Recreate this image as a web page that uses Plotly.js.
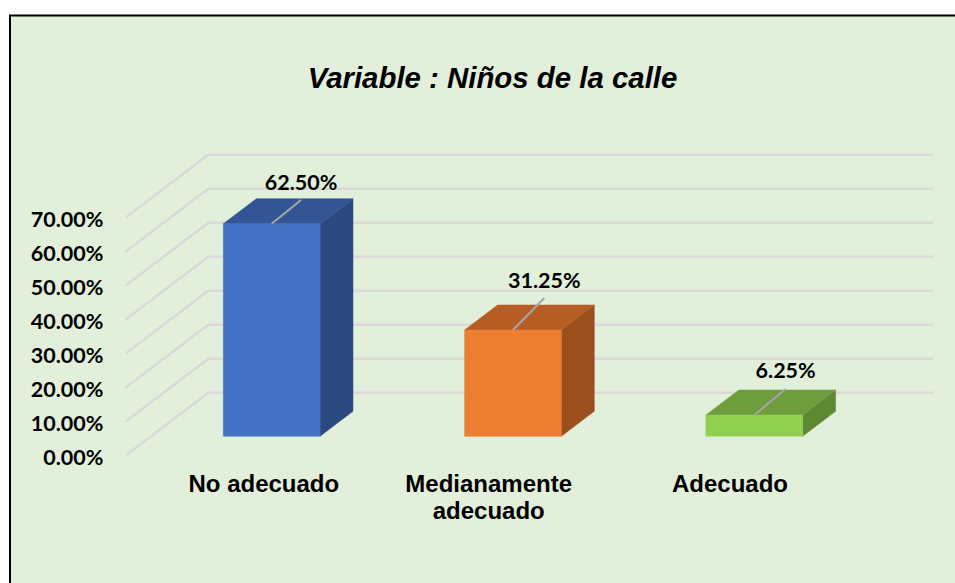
<!DOCTYPE html>
<html><head><meta charset="utf-8">
<script src="https://cdn.plot.ly/plotly-3.0.1.min.js"></script>
<style>html,body{margin:0;padding:0;background:#fff}#c{width:955px;height:583px}</style>
</head><body><div id="c"></div>
<script>
const titleText = 'Variable : Niños de la calle';
const categories = ['No adecuado', 'Medianamente<br>adecuado', 'Adecuado'];
const categoryLabelPos = [0.574, 1.506, 2.506];
const values = [0.625, 0.3125, 0.0625];
const tickValues = [0, 0.1, 0.2, 0.3, 0.4, 0.5, 0.6, 0.7];
const frontColors = ['#4472C4', '#ED7D31', '#92D050'];
const topColors = ['#335593', '#B55D23', '#6F9C3C'];
const sideColors = ['#2C497F', '#9A501D', '#5F8832'];
const leaderLift = [0.0700, 0.0941, 0.0765];
const labelLift = [0.1150, 0.1380, 0.1235];
const leaderRun = [0.1215, 0.1300, 0.1300];

// oblique projection: depth d in [0,1] shifts along the floor diagonal
const DX = 83 / 241.3, DY = 63 / 340;
const P = (x, v, d) => [x + d * DX, v + d * DY];
const poly = (pts, color) => ({
  type: 'scatter', mode: 'lines', fill: 'toself', fillcolor: color,
  x: pts.map(p => p[0]), y: pts.map(p => p[1]),
  line: {color: color, width: 0.5}, hoverinfo: 'skip', showlegend: false
});
const traces = [];
// wall + side gridlines
tickValues.forEach(v => {
  const a = P(0, v, 0), b = P(0, v, 1), c = P(3.004, v, 1);
  traces.push({type:'scatter', mode:'lines', x:[a[0],b[0],c[0]], y:[a[1],b[1],c[1]],
    line:{color:'#D9D9D9', width:2.5}, hoverinfo:'skip', showlegend:false});
});
// bars
const halfW = 0.2004, d0 = 0.31, d1 = 0.707;
values.forEach((v, i) => {
  const L = i + 0.5 - halfW, R = i + 0.5 + halfW;
  traces.push(poly([P(R,0,d0), P(R,0,d1), P(R,v,d1), P(R,v,d0), P(R,0,d0)], sideColors[i]));
  traces.push(poly([P(L,v,d0), P(R,v,d0), P(R,v,d1), P(L,v,d1), P(L,v,d0)], topColors[i]));
  traces.push(poly([P(L,0,d0), P(R,0,d0), P(R,v,d0), P(L,v,d0), P(L,0,d0)], frontColors[i]));
  const s = P(i + 0.5, v, d0);
  traces.push({type:'scatter', mode:'lines', x:[s[0], s[0] + leaderRun[i]], y:[s[1], s[1] + leaderLift[i]],
    line:{color:'#A6A6A6', width:2}, hoverinfo:'skip', showlegend:false});
  traces.push({type:'scatter', mode:'text', x:[s[0] + leaderRun[i]], y:[s[1] + labelLift[i]],
    text:[(v * 100).toFixed(2) + '%'], textposition:'middle center',
    textfont:{family:'Lato', size:21.5, color:'#000', weight:700}, hoverinfo:'skip', showlegend:false});
});

const layout = {
  width: 955, height: 583,
  margin: {l:0, r:0, t:0, b:0},
  paper_bgcolor: '#ffffff', plot_bgcolor: 'rgba(0,0,0,0)',
  showlegend: false,
  title: {text: titleText, x: 492.5/955, xanchor:'center', y: 1 - 78/583, yanchor:'middle',
    font:{family:'Liberation Sans', size:29.4, color:'#000', weight:700, style:'italic'}},
  xaxis: {domain:[125.3/955, 1], range:[0, (955-125.3)/241.3], showgrid:false, zeroline:false, showline:false,
    tickmode:'array', tickvals:categoryLabelPos, ticktext:categories, ticklen:0, tickangle:0,
    ticklabelstandoff:11, tickfont:{family:'Liberation Sans', size:24, color:'#000', weight:700}},
  yaxis: {domain:[(583-455.8)/583, 1], range:[0, 455.8/340], showgrid:false, zeroline:false, showline:false,
    tickmode:'array', tickvals:tickValues, tickformat:'.2%', ticklen:0,
    ticklabelstandoff:21, tickfont:{family:'Lato', size:21.5, color:'#000', weight:700}},
  shapes: [{type:'rect', xref:'paper', yref:'paper', layer:'below',
    x0:10/955, x1:1.02, y0:-0.02, y1:1-15.5/583,
    fillcolor:'#E2EFDA', line:{color:'#000', width:2}}]
};
Plotly.newPlot('c', traces, layout, {displayModeBar:false, staticPlot:true}).then(() => {
  document.querySelectorAll('.xtick text').forEach(txt => {
    txt.querySelectorAll('tspan.line').forEach((t, i) => { if (i > 0) t.setAttribute('dy', '27px'); });
  });
  document.querySelectorAll('.ytick text').forEach(txt => {
    txt.setAttribute('y', parseFloat(txt.getAttribute('y')) + 2);
  });
});
</script></body></html>
